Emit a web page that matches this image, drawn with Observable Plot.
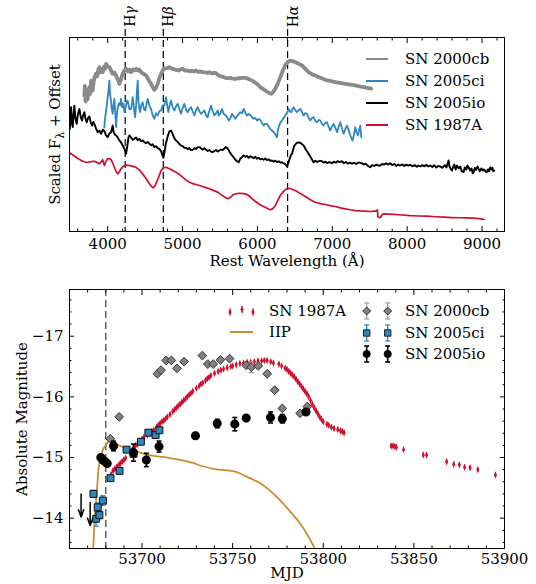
<!DOCTYPE html>
<html><head><meta charset="utf-8">
<script src="https://cdn.jsdelivr.net/npm/d3@7"></script>
<script src="https://cdn.jsdelivr.net/npm/@observablehq/plot@0.6"></script>
<style>
body{margin:0;background:#fff;}
#wrap{position:relative;width:536px;height:584px;background:#fff;font-family:"DejaVu Serif","Liberation Serif",serif;}
#wrap svg{display:block;}
</style>
</head><body><div id="wrap"></div>
<script>
// ---------------- TOP PANEL DATA (rest wavelength Å, scaled flux + offset) ----------------
const spec2000cb = [[3688,7.0],[3695,7.5],[3705,6.7],[3715,7.3],[3725,6.8],[3733,6.84],[3745,7.3],[3756,7.44],[3767,7.1],[3778,7.78],[3790,7.4],[3800,7.27],[3812,7.7],[3825,7.95],[3845,8.13],[3860,8.0],[3875,8.35],[3889,8.47],[3905,8.2],[3920,8.35],[3933,8.21],[3950,8.5],[3965,8.4],[3979,8.64],[4000,8.5],[4023,8.47],[4045,8.3],[4067,8.13],[4090,8.2],[4112,8.04],[4134,7.85],[4156,7.61],[4178,7.85],[4200,8.13],[4223,8.3],[4246,8.39],[4270,8.25],[4290,8.35],[4312,8.21],[4335,8.35],[4356,8.3],[4379,8.39],[4400,8.3],[4423,8.35],[4446,8.21],[4468,8.15],[4490,8.1],[4513,8.04],[4535,7.9],[4557,7.75],[4579,7.61],[4600,7.45],[4623,7.30],[4645,7.4],[4668,7.61],[4690,7.9],[4712,8.1],[4734,8.30],[4760,8.4],[4790,8.42],[4824,8.47],[4850,8.4],[4880,8.38],[4913,8.33],[4945,8.3],[4975,8.36],[5001,8.39],[5030,8.3],[5060,8.3],[5091,8.26],[5120,8.28],[5150,8.25],[5180,8.30],[5210,8.22],[5240,8.25],[5268,8.21],[5300,8.2],[5330,8.18],[5358,8.21],[5390,8.15],[5420,8.18],[5447,8.16],[5480,8.05],[5510,8.0],[5540,7.98],[5571,7.92],[5600,7.9],[5640,7.92],[5670,7.88],[5705,7.87],[5740,7.9],[5770,7.9],[5800,7.92],[5838,7.92],[5870,7.88],[5900,7.82],[5928,7.78],[5960,7.7],[5990,7.62],[6016,7.53],[6045,7.42],[6075,7.35],[6105,7.27],[6140,7.18],[6165,7.12],[6185,7.10],[6210,7.2],[6239,7.36],[6270,7.6],[6306,7.96],[6340,8.3],[6372,8.56],[6400,8.72],[6439,8.81],[6470,8.78],[6506,8.73],[6550,8.65],[6595,8.56],[6640,8.38],[6684,8.21],[6730,8.1],[6773,8.04],[6840,7.92],[6907,7.82],[6970,7.76],[7040,7.70],[7100,7.66],[7174,7.61],[7240,7.57],[7307,7.53],[7360,7.48],[7418,7.44],[7470,7.4],[7518,7.36]];

const spec2005ci = [[3955,5.35],[3962,5.75],[3975,6.1],[3990,6.6],[4000,6.92],[4012,7.3],[4023,7.78],[4030,7.1],[4045,6.75],[4055,6.3],[4067,6.07],[4078,6.5],[4089,6.84],[4100,6.2],[4112,5.38],[4122,6.0],[4134,6.41],[4150,6.6],[4165,6.5],[4178,6.84],[4195,6.4],[4210,6.6],[4223,6.15],[4240,6.4],[4255,6.7],[4267,6.75],[4290,6.3],[4312,6.32],[4325,6.6],[4334,6.92],[4350,6.4],[4366,5.89],[4380,6.5],[4390,7.2],[4401,7.78],[4410,6.8],[4420,6.4],[4432,6.15],[4448,6.5],[4467,6.66],[4485,6.3],[4503,6.24],[4520,6.6],[4534,6.84],[4555,6.5],[4579,6.32],[4600,6.0],[4623,5.81],[4645,6.1],[4668,5.98],[4690,6.2],[4713,6.24],[4735,6.5],[4757,6.49],[4768,6.75],[4780,6.92],[4795,6.5],[4810,6.15],[4828,6.5],[4846,6.75],[4868,6.4],[4891,6.24],[4912,6.45],[4935,6.58],[4958,6.3],[4980,6.07],[5000,6.35],[5024,6.58],[5046,6.3],[5068,6.15],[5090,6.3],[5113,6.41],[5135,6.2],[5158,5.98],[5180,6.25],[5202,6.41],[5225,6.2],[5247,6.07],[5270,6.15],[5291,6.24],[5313,6.0],[5335,5.89],[5357,6.2],[5380,6.49],[5403,6.2],[5425,5.98],[5447,6.1],[5469,6.24],[5482,5.98],[5505,6.1],[5527,6.32],[5550,6.05],[5571,6.0],[5594,5.9],[5616,5.72],[5640,5.85],[5661,6.07],[5683,5.95],[5705,5.81],[5740,6.0],[5772,6.15],[5795,6.1],[5816,6.32],[5840,6.1],[5861,5.98],[5883,6.05],[5905,6.0],[5927,5.9],[5949,5.81],[5972,5.85],[5994,5.72],[6016,5.8],[6039,5.75],[6061,5.6],[6083,5.46],[6105,5.55],[6128,5.55],[6150,5.4],[6172,5.29],[6195,5.2],[6216,5.12],[6240,5.0],[6261,4.86],[6270,5.1],[6283,5.38],[6305,5.6],[6328,5.72],[6350,5.85],[6372,5.98],[6395,6.1],[6416,6.32],[6435,6.2],[6453,6.15],[6468,6.3],[6483,6.41],[6505,6.25],[6528,6.15],[6550,6.25],[6573,6.32],[6595,6.15],[6617,5.98],[6640,6.1],[6662,6.07],[6684,5.85],[6706,5.72],[6728,5.85],[6750,5.89],[6773,5.7],[6796,5.63],[6818,5.75],[6840,5.72],[6862,5.55],[6884,5.46],[6906,5.6],[6929,5.63],[6950,5.4],[6973,5.21],[6995,5.4],[7017,5.55],[7040,5.35],[7063,5.12],[7085,5.4],[7107,5.63],[7130,5.3],[7151,5.04],[7175,5.3],[7196,5.46],[7220,5.2],[7241,4.95],[7256,4.8],[7271,4.69],[7290,5.0],[7307,5.38],[7325,5.1],[7343,4.95],[7360,5.25],[7374,5.46],[7382,5.1],[7387,4.86]];

const spec2005io = [[3495,5.3],[3511,6.41],[3522,5.6],[3533,5.38],[3545,6.1],[3555,6.49],[3570,5.8],[3586,5.55],[3600,6.0],[3622,6.32],[3640,5.9],[3658,5.72],[3672,6.0],[3689,6.15],[3705,5.8],[3720,5.63],[3738,5.85],[3756,5.93],[3775,5.6],[3792,5.46],[3808,5.65],[3822,5.55],[3845,5.3],[3866,5.12],[3890,5.2],[3912,5.04],[3935,5.25],[3956,5.17],[3978,4.95],[4000,4.86],[4022,5.05],[4045,5.12],[4067,5.46],[4080,5.1],[4096,5.0],[4112,4.95],[4134,4.85],[4156,4.69],[4178,4.6],[4200,4.43],[4225,4.25],[4246,4.01],[4262,4.4],[4278,4.85],[4290,4.95],[4312,4.85],[4335,4.72],[4356,4.78],[4380,4.85],[4400,4.7],[4423,4.78],[4445,4.65],[4468,4.7],[4490,4.60],[4512,4.55],[4535,4.62],[4557,4.52],[4580,4.45],[4600,4.5],[4623,4.35],[4645,4.4],[4668,4.3],[4690,4.26],[4712,4.15],[4730,3.95],[4744,3.80],[4760,4.1],[4775,4.5],[4788,4.69],[4805,4.95],[4822,5.15],[4846,5.21],[4870,5.0],[4892,4.8],[4913,4.69],[4935,4.62],[4958,4.5],[4980,4.43],[5002,4.4],[5024,4.32],[5047,4.31],[5070,4.25],[5090,4.3],[5113,4.2],[5135,4.21],[5158,4.3],[5180,4.25],[5202,4.35],[5224,4.35],[5247,4.28],[5270,4.22],[5292,4.3],[5314,4.21],[5336,4.15],[5358,4.2],[5380,4.12],[5402,4.09],[5425,4.15],[5447,4.2],[5469,4.12],[5491,4.18],[5515,4.22],[5535,4.2],[5560,4.28],[5575,4.35],[5594,4.31],[5615,4.2],[5638,4.05],[5661,3.92],[5685,3.8],[5705,3.7],[5727,3.62],[5749,3.57],[5770,3.75],[5790,3.82],[5816,3.92],[5838,3.85],[5860,3.9],[5883,3.8],[5905,3.88],[5928,3.83],[5950,3.78],[5972,3.85],[5994,3.75],[6016,3.8],[6039,3.72],[6061,3.75],[6083,3.7],[6105,3.76],[6128,3.68],[6150,3.72],[6172,3.65],[6195,3.66],[6217,3.6],[6240,3.65],[6262,3.58],[6285,3.62],[6306,3.55],[6328,3.57],[6350,3.52],[6372,3.48],[6395,3.35],[6410,3.5],[6430,3.75],[6450,3.95],[6462,4.01],[6490,4.4],[6520,4.55],[6550,4.6],[6580,4.55],[6617,4.43],[6650,4.2],[6684,4.01],[6715,3.8],[6750,3.57],[6775,3.65],[6800,3.58],[6830,3.65],[6862,3.62],[6885,3.55],[6910,3.6],[6930,3.52],[6960,3.58],[6996,3.52],[7020,3.6],[7045,3.55],[7070,3.62],[7100,3.58],[7130,3.62],[7155,3.52],[7180,3.58],[7210,3.5],[7235,3.55],[7263,3.49],[7290,3.55],[7320,3.48],[7350,3.56],[7374,3.54],[7397,3.52],[7420,3.45],[7445,3.5],[7475,3.38],[7507,3.31],[7530,3.42],[7560,3.38],[7590,3.45],[7615,3.4],[7641,3.40],[7665,3.48],[7690,3.45],[7720,3.52],[7745,3.45],[7774,3.52],[7800,3.42],[7830,3.48],[7855,3.38],[7880,3.45],[7908,3.40],[7935,3.46],[7960,3.38],[7990,3.45],[8015,3.4],[8041,3.44],[8070,3.36],[8100,3.42],[8130,3.34],[8150,3.4],[8175,3.35],[8200,3.42],[8230,3.36],[8255,3.44],[8280,3.35],[8308,3.40],[8335,3.32],[8360,3.42],[8390,3.3],[8415,3.38],[8442,3.35],[8470,3.28],[8500,3.42],[8525,3.3],[8540,3.5],[8553,3.66],[8565,3.35],[8580,3.25],[8598,3.14],[8615,3.35],[8630,3.45],[8648,3.2],[8665,3.40],[8690,3.25],[8710,3.35],[8730,3.1],[8753,3.06],[8770,3.3],[8790,3.2],[8805,3.4],[8820,3.31],[8840,3.15],[8860,3.25],[8875,3.0],[8887,3.06],[8905,3.28],[8920,3.18],[8940,3.35],[8954,3.23],[8970,3.1],[8990,3.25],[9010,3.15],[9025,3.2],[9043,3.11],[9060,3.05],[9080,3.2],[9095,3.1],[9110,3.31],[9125,3.2],[9140,3.28],[9150,3.1],[9163,3.14]];

const spec1987A = [[3495,4.05],[3511,4.01],[3545,3.92],[3578,3.83],[3620,3.72],[3666,3.62],[3700,3.58],[3733,3.57],[3780,3.6],[3822,3.62],[3860,3.55],[3889,3.49],[3915,3.6],[3933,3.70],[3945,3.55],[3956,3.40],[3975,3.6],[4000,3.75],[4023,3.76],[4045,3.70],[4068,3.52],[4089,3.31],[4112,3.1],[4134,2.97],[4156,3.08],[4178,3.23],[4200,3.33],[4223,3.40],[4260,3.42],[4290,3.40],[4335,3.36],[4379,3.31],[4420,3.18],[4467,2.97],[4510,2.75],[4557,2.46],[4585,2.32],[4610,2.25],[4630,2.35],[4654,2.54],[4685,2.85],[4713,3.14],[4745,3.28],[4780,3.31],[4824,3.23],[4868,3.15],[4913,3.06],[4957,2.94],[5001,2.80],[5045,2.66],[5091,2.54],[5135,2.47],[5180,2.42],[5225,2.37],[5268,2.32],[5313,2.26],[5358,2.20],[5410,2.12],[5469,2.03],[5527,1.86],[5570,1.75],[5607,1.69],[5645,1.78],[5682,1.91],[5725,1.96],[5772,1.97],[5815,1.95],[5861,1.91],[5895,1.82],[5928,1.69],[5970,1.56],[6016,1.43],[6060,1.33],[6105,1.25],[6140,1.17],[6172,1.12],[6205,1.18],[6239,1.34],[6272,1.6],[6306,1.86],[6340,2.03],[6372,2.15],[6400,2.21],[6426,2.23],[6465,2.18],[6506,2.11],[6550,2.01],[6595,1.91],[6640,1.8],[6684,1.69],[6730,1.59],[6773,1.51],[6840,1.44],[6907,1.39],[6970,1.33],[7040,1.29],[7110,1.22],[7174,1.17],[7240,1.12],[7307,1.08],[7374,1.06],[7441,1.05],[7507,1.03],[7560,1.05],[7595,1.06],[7602,1.12],[7610,0.75],[7641,0.71],[7662,0.85],[7685,0.91],[7750,0.9],[7818,0.88],[7930,0.85],[8041,0.82],[8150,0.80],[8264,0.79],[8380,0.76],[8486,0.74],[8600,0.72],[8709,0.71],[8800,0.70],[8887,0.69],[8960,0.66],[9000,0.64],[9029,0.62]];

const specNames = ["SN 2000cb", "SN 2005ci", "SN 2005io", "SN 1987A"];
const specColors = ["#8a8a8a", "#2e86c1", "#000000", "#d10f2c"];
const specWidths = [3.8, 1.8, 1.9, 1.7];
const specData = [spec2000cb, spec2005ci, spec2005io, spec1987A];

const lineNames = ["H\u03b3", "H\u03b2", "H\u03b1"];
const lineWaves = [4234, 4743, 6403];

const wlMajor = [4000, 5000, 6000, 7000, 8000, 9000];

// ---------------- BOTTOM PANEL DATA (MJD, absolute magnitude) ----------------
const cbMJD = [53682.5,53687.4,53708.5,53710.5,53713.3,53716.2,53719.3,53723.2,53733.3,53736.3,53739.3,53743.3,53748.3,53757.5,53760.3,53764.1,53769.1,53773.2,53777.4,53787.2,53791.2];
const cbMag = [-15.31,-15.67,-16.38,-16.44,-16.60,-16.60,-16.47,-16.58,-16.68,-16.54,-16.54,-16.61,-16.63,-16.52,-16.49,-16.51,-16.38,-16.11,-15.81,-15.73,-15.84];
const cbErr = [0.03,0.03,0.03,0.03,0.03,0.03,0.03,0.03,0.03,0.03,0.03,0.03,0.03,0.03,0.09,0.03,0.03,0.03,0.03,0.03,0.03];

const ciMJD = [53673.2,53675.6,53674.7,53676.5,53678.4,53682.6,53687.6,53691.5,53695.3,53699.4,53703.5,53707.5,53709.6];
const ciMag = [-14.40,-14.18,-13.99,-14.05,-14.29,-14.66,-14.78,-15.13,-15.06,-15.26,-15.41,-15.37,-15.45];
const ciErr = [0.06,0.07,0.12,0.06,0.08,0.05,0.05,0.04,0.04,0.04,0.05,0.04,0.05];

const ioMJD = [53677.3,53678.4,53679.7,53680.8,53684.3,53695.3,53702.4,53709.4,53729.5,53741.5,53751.2,53757.5,53770.9,53777.4,53790.5];
const ioMag = [-15.00,-14.96,-14.93,-14.90,-15.19,-15.08,-14.96,-15.18,-15.36,-15.56,-15.55,-15.65,-15.66,-15.64,-15.75];
const ioErr = [0.04,0.03,0.03,0.03,0.08,0.14,0.11,0.09,0.05,0.07,0.11,0.04,0.09,0.07,0.03];

const limMJD = [53666.4, 53671.4];
const limMag = [-14.40, -14.26];
const limLen = 0.38;

const iipMJD = [53672.6,53674.0,53675.0,53676.0,53677.0,53678.2,53680.4,53682.8,53686,53692,53704,53714,53721,53728,53733,53740,53751,53758,53765,53770,53776,53782,53788,53795,53800];
const iipMag = [-13.2,-14.01,-14.40,-14.80,-14.98,-15.11,-15.22,-15.29,-15.22,-15.15,-15.04,-15.00,-14.96,-14.91,-14.86,-14.81,-14.77,-14.68,-14.58,-14.47,-14.30,-14.10,-13.88,-13.52,-13.2];

const sn87MJD = [53683.0,53684.0,53685.0,53686.0,53687.0,53688.0,53689.0,53690.0,53691.0,53694.5,53695.5,53696.5,53697.5,53699.0,53700.0,53701.0,53703.0,53704.5,53705.5,53706.5,53708.0,53709.0,53710.0,53711.0,53712.0,53713.0,53714.0,53715.5,53717.0,53718.0,53719.0,53720.0,53721.0,53722.0,53723.0,53724.0,53725.0,53726.0,53727.0,53728.0,53730.0,53731.5,53732.5,53733.5,53735.0,53736.0,53737.0,53738.0,53740.0,53742.0,53743.5,53745.0,53747.0,53749.0,53750.0,53752.0,53754.0,53756.0,53758.0,53760.0,53762.0,53764.0,53766.0,53767.5,53769.0,53771.0,53772.5,53775.5,53777.0,53779.0,53780.0,53781.0,53782.0,53783.0,53784.0,53785.0,53786.0,53787.0,53788.0,53789.0,53790.0,53791.0,53792.0,53793.0,53794.0,53795.0,53796.0,53797.0,53798.0,53799.0,53800.0,53802.0,53803.0,53804.5,53806.0,53808.0,53809.5,53810.5,53811.5,53837.5,53838.5,53839.5,53840.3,53844.3,53855.2,53857.0,53868.1,53872.0,53875.1,53878.0,53881.0,53885.3,53895.0];
const sn87Mag = [-14.72,-14.78,-14.81,-14.84,-14.87,-14.90,-14.93,-14.96,-14.99,-15.12,-15.16,-15.20,-15.22,-15.26,-15.30,-15.33,-15.37,-15.40,-15.43,-15.45,-15.50,-15.53,-15.56,-15.59,-15.61,-15.64,-15.67,-15.71,-15.76,-15.79,-15.82,-15.85,-15.88,-15.91,-15.94,-15.97,-16.00,-16.03,-16.06,-16.09,-16.14,-16.18,-16.21,-16.23,-16.27,-16.30,-16.32,-16.35,-16.39,-16.42,-16.44,-16.46,-16.48,-16.50,-16.51,-16.53,-16.55,-16.56,-16.57,-16.57,-16.58,-16.59,-16.59,-16.60,-16.60,-16.58,-16.56,-16.54,-16.51,-16.47,-16.45,-16.42,-16.39,-16.36,-16.33,-16.29,-16.25,-16.21,-16.17,-16.13,-16.09,-16.05,-16.00,-15.94,-15.88,-15.82,-15.77,-15.72,-15.67,-15.63,-15.59,-15.55,-15.53,-15.50,-15.48,-15.46,-15.44,-15.43,-15.41,-15.19,-15.19,-15.18,-15.17,-15.13,-15.04,-15.04,-14.93,-14.89,-14.88,-14.84,-14.83,-14.80,-14.71];
const sn87Err = 0.035;

const mjdMajor = [53700, 53750, 53800, 53850, 53900];
const magMajor = [-17, -16, -15, -14];

const legNames = ["SN 1987A", "IIP", "SN 2000cb", "SN 2005ci", "SN 2005io"];

// ---------------- helpers ----------------
const FONT = "DejaVu Serif, Liberation Serif, serif";
const RED = specColors[3], BLUE = specColors[1], ORANGE = "#cd8a34";
const thinDiamond = {draw(ctx, size) { const s = Math.sqrt(size / Math.PI); ctx.moveTo(0, -1.7*s); ctx.lineTo(0.7*s, 0); ctx.lineTo(0, 1.7*s); ctx.lineTo(-0.7*s, 0); ctx.closePath(); }};
const squareDiamond = {draw(ctx, size) { const s = Math.sqrt(size / Math.PI); ctx.moveTo(0, -s); ctx.lineTo(s, 0); ctx.lineTo(0, s); ctx.lineTo(-s, 0); ctx.closePath(); }};
const capSym = {draw(ctx, size) { const s = Math.sqrt(size / Math.PI); ctx.moveTo(-s, 0); ctx.lineTo(s, 0); }};
const near = (v, arr) => arr.some(m => Math.abs(m - v) < 1e-6);
const wlMinor = d3.range(3600, 9300, 200).filter(v => !near(v, wlMajor));
const mjdMinor = d3.range(53670, 53900, 10).filter(v => !near(v, mjdMajor));
const magMinor = d3.range(-17.6, -13.5, 0.2).map(v => Math.round(v*10)/10).filter(v => !near(v, magMajor));
const fmt = d3.format("d");

function tickAxes(axis, anchors, majors, minors) {
  const out = [];
  for (const a of anchors) {
    out.push(axis({anchor: a, ticks: majors, tickSize: -5, fill: "none", label: null}));
    out.push(axis({anchor: a, ticks: minors, tickSize: -2.5, fill: "none", label: null}));
  }
  return out;
}

const wrap = document.getElementById("wrap");
const plotStyle = {fontFamily: FONT, fontSize: "15px", color: "black", background: "white", overflow: "visible"};

// ---------------- TOP PLOT ----------------
const specRows = specData.map((arr, i) => arr.map(([w, f]) => ({w, f, name: specNames[i]})));
const hLines = lineNames.map((n, i) => ({name: n, w: lineWaves[i]}));

const topPlot = Plot.plot({
  width: 536, height: 280,
  marginTop: 37, marginBottom: 49, marginLeft: 69, marginRight: 32,
  style: plotStyle,
  x: {domain: [3490, 9300]},
  y: {domain: [0, 10], axis: null},
  marks: [
    Plot.ruleX(hLines, {x: "w", stroke: "black", strokeWidth: 1.2, strokeDasharray: "7,4", insetTop: -8}),
    ...specRows.map((rows, i) => Plot.line(rows, {x: "w", y: "f", stroke: specColors[i], strokeWidth: specWidths[i], strokeLinejoin: "round"})),
    Plot.text(hLines, {x: "w", text: "name", frameAnchor: "top", dy: -21, rotate: -90, fontSize: 14, textAnchor: "middle"}),
    Plot.frame({stroke: "black", strokeWidth: 1}),
    Plot.axisX({anchor: "bottom", ticks: wlMajor, tickSize: 0, tickPadding: 7, tickFormat: fmt, label: null}),
    ...tickAxes(Plot.axisX, ["bottom", "top"], wlMajor, wlMinor),
    Plot.text(["Rest Wavelength (\u00c5)"], {frameAnchor: "bottom", dy: 34, text: d => d, textAnchor: "middle"}),
    Plot.text(["Scaled F\u03bb + Offset"], {frameAnchor: "left", dx: -14, rotate: -90, text: d => d, textAnchor: "middle"})
  ]
});
wrap.appendChild(topPlot);

// subscript lambda in the y label, italic greek in line labels
d3.select(topPlot).selectAll("text").each(function() {
  const t = d3.select(this);
  const s = this.textContent;
  if (s === "Scaled F\u03bb + Offset") {
    t.attr("text-anchor", "middle");
    t.text(null);
    t.append("tspan").text("Scaled F");
    t.append("tspan").attr("dy", 4).attr("font-size", 11).text("\u03bb");
    t.append("tspan").attr("dy", -4).text(" + Offset");
  } else if (lineNames.includes(s)) {
    t.text(null);
    t.append("tspan").text("H");
    t.append("tspan").attr("font-style", "italic").text(s.slice(1));
  }
});

// top legend
{
  const g = d3.select(topPlot).append("g").attr("font-family", FONT).attr("font-size", 15).attr("text-anchor", "start");
  specNames.forEach((n, i) => {
    const y = 59 + i * 22;
    g.append("line").attr("x1", 366).attr("x2", 388).attr("y1", y).attr("y2", y)
      .attr("stroke", specColors[i]).attr("stroke-width", 2);
    g.append("text").attr("x", 405).attr("y", y).attr("dy", "0.35em").attr("fill", "black").text(n);
  });
}

// ---------------- BOTTOM PLOT ----------------
const toRows = (xs, ys, es) => xs.map((x, i) => ({x, y: ys[i], e: Array.isArray(es) ? es[i] : es}));
const cb = toRows(cbMJD, cbMag, cbErr);
const ci = toRows(ciMJD, ciMag, ciErr);
const io = toRows(ioMJD, ioMag, ioErr);
const sn87 = toRows(sn87MJD, sn87Mag, sn87Err);
const iip = toRows(iipMJD, iipMag, 0);
const lims = toRows(limMJD, limMag, limLen);

function errMarks(rows, color, sw, capR) {
  return [
    Plot.ruleX(rows, {x: "x", y1: d => d.y - d.e, y2: d => d.y + d.e, stroke: color, strokeWidth: sw}),
    Plot.dot(rows, {x: "x", y: d => d.y - d.e, symbol: capSym, r: capR, stroke: color, strokeWidth: sw}),
    Plot.dot(rows, {x: "x", y: d => d.y + d.e, symbol: capSym, r: capR, stroke: color, strokeWidth: sw})
  ];
}

const botPlot = Plot.plot({
  width: 536, height: 304,
  marginTop: 9, marginBottom: 36, marginLeft: 69, marginRight: 32,
  style: plotStyle,
  x: {domain: [53660, 53900]},
  y: {domain: [-13.5, -17.77]},
  marks: [
    Plot.ruleX([53680], {stroke: "#555", strokeWidth: 1.4, strokeDasharray: "7,4"}),
    Plot.line(iip, {x: "x", y: "y", stroke: ORANGE, strokeWidth: 1.8, clip: true, curve: "monotone-x"}),
    Plot.ruleX(sn87, {x: "x", y1: d => d.y - d.e, y2: d => d.y + d.e, stroke: RED, strokeWidth: 1}),
    Plot.dot(sn87, {x: "x", y: "y", symbol: thinDiamond, r: 2.2, fill: RED, stroke: "none"}),
    ...errMarks(cb, "#9a9a9a", 1.2, 2.5),
    Plot.dot(cb, {x: "x", y: "y", symbol: squareDiamond, r: 4.4, fill: "#808080", stroke: "#2a2a2a", strokeWidth: 0.9}),
    ...errMarks(ci, BLUE, 1.3, 2.5),
    Plot.dot(ci, {x: "x", y: "y", symbol: "square", r: 3.9, fill: BLUE, stroke: "#111", strokeWidth: 1}),
    ...errMarks(io, "black", 1.6, 2.5),
    Plot.dot(io, {x: "x", y: "y", symbol: "circle", r: 3.8, fill: "black", stroke: "black"}),
    Plot.arrow(lims, {x1: "x", x2: "x", y1: "y", y2: d => d.y + d.e, stroke: "black", strokeWidth: 1.5, headLength: 8, headAngle: 40}),
    Plot.frame({stroke: "black", strokeWidth: 1}),
    Plot.axisX({anchor: "bottom", ticks: mjdMajor, tickSize: 0, tickPadding: 5, tickFormat: fmt, label: null}),
    Plot.axisY({anchor: "left", ticks: magMajor, tickSize: 0, tickPadding: 6, tickFormat: fmt, label: null}),
    ...tickAxes(Plot.axisX, ["bottom", "top"], mjdMajor, mjdMinor),
    ...tickAxes(Plot.axisY, ["left", "right"], magMajor, magMinor),
    Plot.text(["MJD"], {frameAnchor: "bottom", dy: 29, text: d => d, textAnchor: "middle"}),
    Plot.text(["Absolute Magnitude"], {frameAnchor: "left", dx: -47, rotate: -90, text: d => d, textAnchor: "middle"})
  ]
});
wrap.appendChild(botPlot);

// bottom legend
{
  const g = d3.select(botPlot).append("g").attr("font-family", FONT).attr("font-size", 15).attr("text-anchor", "start");
  const text = (x, y, s) => g.append("text").attr("x", x).attr("y", y).attr("dy", "0.35em").attr("fill", "black").text(s);
  const sym = (type, r) => d3.symbol().type(type).size(Math.PI * r * r)();
  const ebar = (x, y, color, sw) => {
    g.append("line").attr("x1", x).attr("x2", x).attr("y1", y - 8).attr("y2", y + 8).attr("stroke", color).attr("stroke-width", sw);
    g.append("line").attr("x1", x - 2.5).attr("x2", x + 2.5).attr("y1", y - 8).attr("y2", y - 8).attr("stroke", color).attr("stroke-width", sw);
    g.append("line").attr("x1", x - 2.5).attr("x2", x + 2.5).attr("y1", y + 8).attr("y2", y + 8).attr("stroke", color).attr("stroke-width", sw);
  };
  // SN 1987A
  const y0 = 31;
  [[230, 1], [242, -1.5], [253, 1]].forEach(([x, o]) => {
    g.append("line").attr("x1", x).attr("x2", x).attr("y1", y0 + o - 3.5).attr("y2", y0 + o + 3.5).attr("stroke", RED).attr("stroke-width", 1);
    g.append("path").attr("transform", `translate(${x},${y0 + o})`).attr("d", sym(thinDiamond, 2.2)).attr("fill", RED);
  });
  text(269, y0, legNames[0]);
  // IIP
  g.append("line").attr("x1", 230).attr("x2", 253).attr("y1", 52).attr("y2", 52).attr("stroke", ORANGE).attr("stroke-width", 2);
  text(269, 52, legNames[1]);
  // points
  const items = [
    {name: legNames[2], y: 31, bar: "#9a9a9a", sw: 1.2, type: squareDiamond, r: 4.0, fill: "#808080", stroke: "#2a2a2a"},
    {name: legNames[3], y: 53, bar: BLUE, sw: 1.3, type: d3.symbolSquare, r: 3.6, fill: BLUE, stroke: "#111"},
    {name: legNames[4], y: 74, bar: "black", sw: 1.6, type: d3.symbolCircle, r: 3.6, fill: "black", stroke: "black"}
  ];
  for (const it of items) {
    for (const x of [366.7, 387.7]) {
      ebar(x, it.y, it.bar, it.sw);
      g.append("path").attr("transform", `translate(${x},${it.y})`).attr("d", sym(it.type, it.r)).attr("fill", it.fill).attr("stroke", it.stroke).attr("stroke-width", 0.9);
    }
    text(405, it.y, it.name);
  }
}
</script>
</body></html>
